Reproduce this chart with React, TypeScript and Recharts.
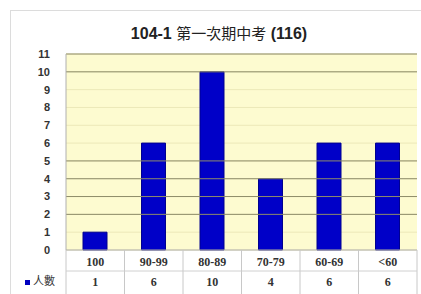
import React from 'react';
import { BarChart, Bar, XAxis, YAxis, CartesianGrid, ReferenceLine } from 'recharts';

const categories = ['100', '90-99', '80-89', '70-79', '60-69', '<60'];
const counts = [1, 6, 10, 4, 6, 6];
const yTicks = [0, 1, 2, 3, 4, 5, 6, 7, 8, 9, 10, 11];
const darkLines = [2, 3, 4, 5, 10, 11];

const data = categories.map((name, i) => ({ name, value: counts[i] }));

const W = 421;
const H = 294;
const M = { top: 54, right: 4, bottom: 0, left: 0 };
const X_AXIS_H = 44;
const Y_AXIS_W = 66;
const half = (W - Y_AXIS_W - M.right) / categories.length / 2;
const plotBottom = H - X_AXIS_H;

const TableTick = (props: any) => {
  const { x, payload } = props;
  const i = payload.index;
  const last = i === categories.length - 1;
  return (
    <g>
      <line x1={x - half} x2={x - half} y1={plotBottom} y2={H} stroke="#c8c8c8" />
      {last && <line x1={x + half} x2={x + half} y1={plotBottom} y2={H} stroke="#c8c8c8" />}
      <line x1={x - half} x2={x + half} y1={plotBottom + 21} y2={plotBottom + 21} stroke="#d0d0d0" />
      <text x={x} y={plotBottom + 16} textAnchor="middle" fontFamily="'Liberation Serif', serif" fontWeight="bold" fontSize={12} fill="#333">
        {payload.value}
      </text>
      <text x={x} y={plotBottom + 36} textAnchor="middle" fontFamily="'Liberation Serif', serif" fontWeight="bold" fontSize={12} fill="#333">
        {counts[i]}
      </text>
    </g>
  );
};

export default function App() {
  return (
    <div style={{ position: 'absolute', left: 0, top: 0, width: W, height: H, background: '#fff', overflow: 'hidden' }}>
      <div style={{ position: 'absolute', left: 10, top: 10, right: 0, bottom: 0, borderTop: '1px solid #dcdcdc', borderLeft: '1px solid #dcdcdc' }} />
      <div style={{ position: 'absolute', left: 0, top: 22, width: 438, textAlign: 'center', fontSize: 16, fontWeight: 'bold', fontFamily: "'Liberation Sans', Arial, sans-serif", color: '#222', whiteSpace: 'nowrap' }}>
        104-1 <span style={{ fontFamily: "'Noto Sans CJK TC', sans-serif", fontWeight: 'normal', fontSize: 15 }}>第一次期中考</span> (116)
      </div>
      <div style={{ position: 'absolute', left: 25, top: 273, fontSize: 11, fontFamily: "'Noto Sans CJK TC', sans-serif", color: '#333', whiteSpace: 'nowrap', lineHeight: '14px' }}>
        <span style={{ display: 'inline-block', width: 5, height: 5, background: '#0000c0', marginRight: 3, verticalAlign: 'middle' }} />
        人數
      </div>
      <div style={{ position: 'absolute', left: 0, top: 0 }}>
        <BarChart width={W} height={H} data={data} margin={M} barSize={24}>
          <CartesianGrid vertical={false} fill="#fdfbd0" stroke="#ece8b8" horizontalValues={yTicks} />
          {darkLines.map((v) => (
            <ReferenceLine key={v} y={v} stroke="#8e8c6a" />
          ))}
          <XAxis
            dataKey="name"
            axisLine={{ stroke: '#b0b0b0' }}
            tickLine={false}
            tick={<TableTick />}
            interval={0}
            height={X_AXIS_H}
          />
          <YAxis
            domain={[0, 11]}
            ticks={yTicks}
            interval={0}
            width={Y_AXIS_W}
            axisLine={{ stroke: '#b0b0b0' }}
            tickLine={false}
            tickMargin={10}
            tick={{ fontSize: 11, fontWeight: 'bold', fill: '#333', fontFamily: "'Liberation Sans', Arial, sans-serif" }}
          />
          <Bar dataKey="value" fill="#0000c8" stroke="#000090" isAnimationActive={false} />
        </BarChart>
      </div>
    </div>
  );
}
